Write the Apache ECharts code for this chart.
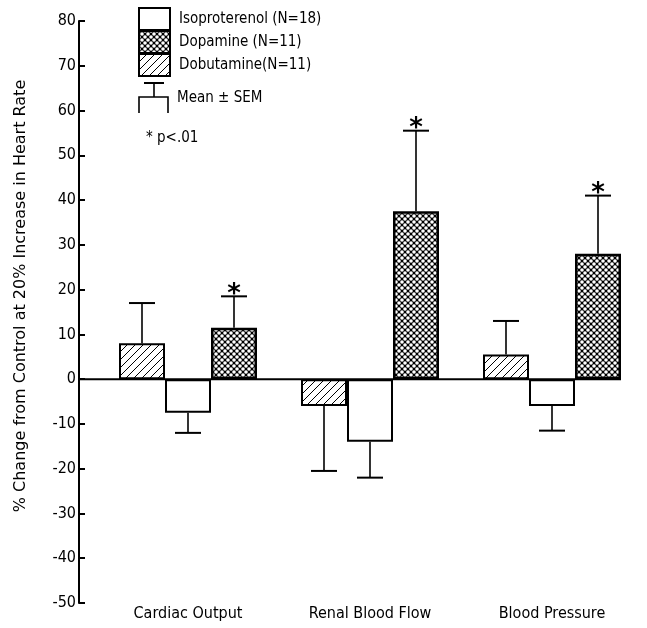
<!DOCTYPE html>
<html>
<head>
<meta charset="utf-8">
<script src="https://cdn.jsdelivr.net/npm/echarts@6/dist/echarts.min.js"></script>
<style>
html, body { margin: 0; padding: 0; background: #fff; }
#chart { width: 647px; height: 628px; }
</style>
</head>
<body>
<div id="chart"></div>
<script>
const categories = ['Cardiac Output', 'Renal Blood Flow', 'Blood Pressure'];

const dobutamine = [8, -6, 5.5];
const dobutamineErr = [17, -20.5, 13];
const isoproterenol = [-7.5, -14, -6];
const isoproterenolErr = [-12, -22, -11.5];
const dopamine = [11.5, 37.5, 28];
const dopamineErr = [18.5, 55.5, 41];
const dopamineSig = [1, 1, 1];

const FONT = '"DejaVu Sans Condensed", "Liberation Sans Narrow", sans-serif';
const BAR_W = 46;
const GRID_LEFT = 97;
const AXIS_OFFSET = 18;

// hatch "/" pattern
function makeHatch() {
    const c = document.createElement('canvas');
    c.width = 8; c.height = 8;
    const g = c.getContext('2d');
    g.fillStyle = '#fff';
    g.fillRect(0, 0, 8, 8);
    g.strokeStyle = '#000';
    g.lineWidth = 1;
    g.beginPath();
    g.moveTo(-1, 9); g.lineTo(9, -1);
    g.moveTo(-1, 1); g.lineTo(1, -1);
    g.moveTo(7, 9); g.lineTo(9, 7);
    g.stroke();
    return c;
}

// dense cross-hatch with round holes
function makeCross() {
    const c = document.createElement('canvas');
    c.width = 6; c.height = 6;
    const g = c.getContext('2d');
    g.fillStyle = '#000';
    g.fillRect(0, 0, 6, 6);
    g.fillStyle = '#fff';
    [[0, 0], [6, 0], [0, 6], [6, 6], [3, 3]].forEach(p => {
        g.beginPath();
        g.arc(p[0], p[1], 1.8, 0, Math.PI * 2);
        g.fill();
    });
    return c;
}

const hatchFill = {image: makeHatch(), repeat: 'repeat'};
const crossFill = {image: makeCross(), repeat: 'repeat'};

function barSeries(name, data, fill, bw) {
    return {
        name: name,
        type: 'bar',
        data: data,
        barWidth: BAR_W,
        barGap: '0%',
        itemStyle: {color: fill, borderColor: '#000', borderWidth: bw},
        emphasis: {disabled: true},
        z: 3
    };
}

function errSeries(means, ends, shift, sig) {
    return {
        type: 'custom',
        data: means.map((m, i) => [i, m, ends[i], sig ? sig[i] : 0]),
        encode: {x: 0, y: [1, 2]},
        z: 4,
        silent: true,
        renderItem: (params, api) => {
            const base = api.coord([api.value(0), api.value(1)]);
            const tip = api.coord([api.value(0), api.value(2)]);
            const x = base[0] + shift * BAR_W;
            const kids = [
                {type: 'line', shape: {x1: x, y1: base[1], x2: x, y2: tip[1]},
                 style: {stroke: '#000', lineWidth: 1.6}},
                {type: 'line', shape: {x1: x - 13, y1: tip[1], x2: x + 13, y2: tip[1]},
                 style: {stroke: '#000', lineWidth: 2}}
            ];
            if (api.value(3)) {
                kids.push({type: 'text', x: x, y: tip[1] + 12,
                    style: {text: '*', fill: '#000', font: 'bold 26px "DejaVu Sans"',
                        textAlign: 'center', textVerticalAlign: 'bottom'}});
            }
            return {type: 'group', children: kids};
        }
    };
}

const chart = echarts.init(document.getElementById('chart'));

const option = {
    backgroundColor: '#fff',
    animation: false,
    textStyle: {fontFamily: FONT, color: '#000'},
    grid: {left: GRID_LEFT, right: 4, top: 21, bottom: 25},
    legend: {
        data: ['Isoproterenol (N=18)', 'Dopamine (N=11)', 'Dobutamine(N=11)'],
        orient: 'vertical',
        left: 138, top: 7,
        padding: 0,
        itemWidth: 31, itemHeight: 22, itemGap: -1,
        icon: 'rect',
        selectedMode: false,
        textStyle: {fontFamily: FONT, fontSize: 15, color: '#000', padding: [0, 0, 0, 4]}
    },
    xAxis: {
        type: 'category',
        data: categories,
        axisLine: {show: false, onZero: false},
        axisTick: {show: false},
        axisLabel: {fontFamily: FONT, fontSize: 16, color: '#000', margin: 3}
    },
    yAxis: {
        type: 'value',
        min: -50, max: 80, interval: 10,
        offset: AXIS_OFFSET,
        splitLine: {show: false},
        axisLine: {show: true, lineStyle: {color: '#000', width: 2}},
        axisTick: {show: true, inside: true, length: 6, lineStyle: {color: '#000', width: 2}},
        axisLabel: {fontFamily: FONT, fontSize: 16, color: '#000', margin: 3},
        name: '% Change from Control at 20% Increase in Heart Rate',
        nameLocation: 'middle',
        nameGap: 50,
        nameRotate: 90,
        nameTextStyle: {fontFamily: '"DejaVu Sans", sans-serif', fontSize: 16, color: '#000',
            padding: [0, 0, 0, 32]}
    },
    series: [
        barSeries('Dobutamine(N=11)', dobutamine, hatchFill, 2),
        barSeries('Isoproterenol (N=18)', isoproterenol, '#fff', 2),
        barSeries('Dopamine (N=11)', dopamine, crossFill, 2.5),
        errSeries(dobutamine, dobutamineErr, -1, null),
        errSeries(isoproterenol, isoproterenolErr, 0, null),
        errSeries(dopamine, dopamineErr, 1, dopamineSig)
    ]
};

chart.setOption(option);

// zero line from the y axis to the last bar, plus the Mean ± SEM key
const y0 = chart.convertToPixel({yAxisIndex: 0}, 0);
const xEnd = chart.convertToPixel({xAxisIndex: 0}, categories[categories.length - 1]) + 1.5 * BAR_W;
const axisX = GRID_LEFT - AXIS_OFFSET;

chart.setOption({
    graphic: [
        {type: 'line', z: 1, shape: {x1: axisX, y1: y0, x2: xEnd, y2: y0},
         style: {stroke: '#000', lineWidth: 2}},
        {type: 'line', shape: {x1: 144, y1: 83, x2: 164, y2: 83}, style: {stroke: '#000', lineWidth: 2}},
        {type: 'line', shape: {x1: 154, y1: 83, x2: 154, y2: 97}, style: {stroke: '#000', lineWidth: 1.6}},
        {type: 'polyline', shape: {points: [[139, 113], [139, 97], [168, 97], [168, 113]]},
         style: {stroke: '#000', fill: null, lineWidth: 1.6}},
        {type: 'text', x: 177, y: 98,
         style: {text: 'Mean ± SEM', font: '15px ' + FONT, fill: '#000', textVerticalAlign: 'middle'}},
        {type: 'text', x: 146, y: 138,
         style: {text: '* p<.01', font: '15px ' + FONT, fill: '#000', textVerticalAlign: 'middle'}}
    ]
});
</script>
</body>
</html>
